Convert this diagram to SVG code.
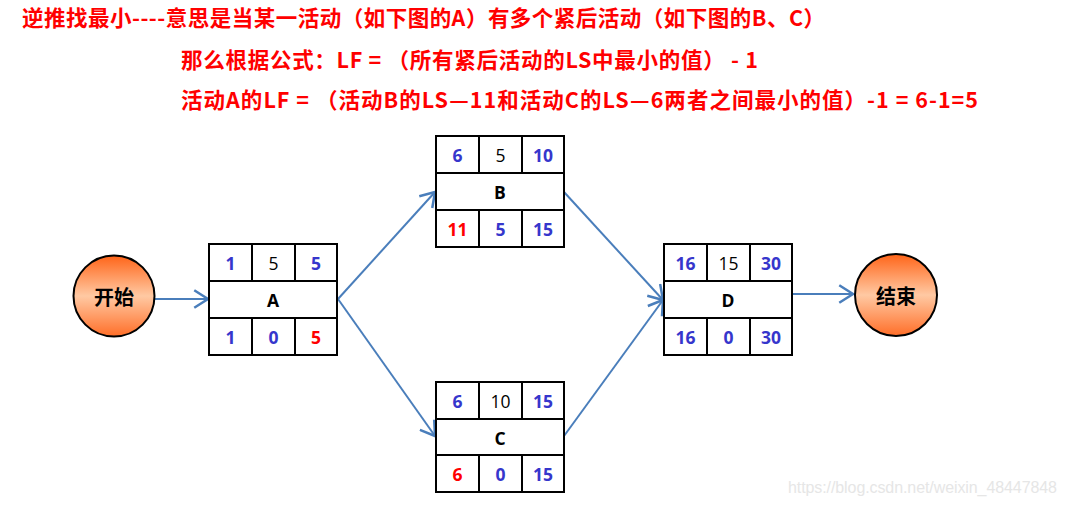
<svg xmlns="http://www.w3.org/2000/svg" width="1068" height="506" viewBox="0 0 1068 506">
<style>
.title{font-family:"Noto Sans CJK SC","Noto Sans",sans-serif;font-weight:bold;font-size:21.5px;fill:#FF0000}
.box{fill:#fff;stroke:#000;stroke-width:2}
.ln{stroke:#000;stroke-width:2}
.n{font-family:"Open Sans","Noto Sans",sans-serif;font-size:17.5px;text-anchor:middle;dominant-baseline:central}
.b{font-weight:bold;fill:#3636CC}
.r{font-weight:bold;fill:#FF0000}
.k{fill:#000}
.lab{font-weight:bold;fill:#000}
.circ{stroke:#000;stroke-width:2;fill:url(#og)}
.ct{font-family:"Noto Sans CJK SC",sans-serif;font-weight:bold;font-size:20px;text-anchor:middle;dominant-baseline:central;fill:#000}
.edge{stroke:#4A7EBB;stroke-width:2;fill:none;marker-end:url(#ah)}
.wm{font-family:"Liberation Sans",Arial,sans-serif;font-size:16px;fill:#E6E6E6}
</style>
<defs>
<linearGradient id="og" x1="0" y1="0" x2="0" y2="1">
<stop offset="0" stop-color="#FF6418"/>
<stop offset="0.5" stop-color="#FFC9A3"/>
<stop offset="1" stop-color="#FF6E28"/>
</linearGradient>
<marker id="ah" markerUnits="userSpaceOnUse" markerWidth="20" markerHeight="20" refX="13" refY="8" orient="auto" viewBox="0 0 16 16">
<polyline points="2,1 13,8 2,15" fill="none" stroke="#4A7EBB" stroke-width="2"/>
</marker>
</defs>
<rect width="1068" height="506" fill="#fff"/>
<g id="titles">
<text class="title" x="22" y="26" textLength="803" lengthAdjust="spacing">逆推找最小----意思是当某一活动（如下图的A）有多个紧后活动（如下图的B、C）</text>
<text class="title" x="181" y="68" textLength="577" lengthAdjust="spacing">那么根据公式：LF = （所有紧后活动的LS中最小的值） - 1</text>
<text class="title" x="181" y="108" textLength="797" lengthAdjust="spacing">活动A的LF = （活动B的LS—11和活动C的LS—6两者之间最小的值）-1 = 6-1=5</text>
</g>
<g id="connectors">
<line class="edge" x1="155" y1="299" x2="208" y2="299"/>
<line class="edge" x1="338" y1="299" x2="435" y2="192"/>
<line class="edge" x1="338" y1="299" x2="435" y2="436"/>
<line class="edge" x1="564" y1="192" x2="663" y2="300"/>
<line class="edge" x1="564" y1="436" x2="663" y2="300"/>
<line class="edge" x1="793" y1="294" x2="853" y2="294"/>
</g>
<g id="start">
<circle class="circ" cx="114" cy="296" r="40.5"/>
<text class="ct" x="114" y="296">开始</text>
</g>
<g id="end">
<circle class="circ" cx="896" cy="295" r="41"/>
<text class="ct" x="896" y="295">结束</text>
</g>
<g id="nodeA" transform="translate(209,244)">
<rect class="box" width="128" height="111"/>
<line class="ln" x1="0" y1="37" x2="128" y2="37"/><line class="ln" x1="0" y1="74" x2="128" y2="74"/>
<line class="ln" x1="43" y1="0" x2="43" y2="37"/><line class="ln" x1="86" y1="0" x2="86" y2="37"/>
<line class="ln" x1="43" y1="74" x2="43" y2="111"/><line class="ln" x1="86" y1="74" x2="86" y2="111"/>
<text class="n b" x="21.5" y="19">1</text><text class="n k" x="64.5" y="19">5</text><text class="n b" x="107" y="19">5</text>
<text class="n lab" x="64" y="56">A</text>
<text class="n b" x="21.5" y="93">1</text><text class="n b" x="64.5" y="93">0</text><text class="n r" x="107" y="93">5</text>
</g>
<g id="nodeB" transform="translate(436,136)">
<rect class="box" width="128" height="111"/>
<line class="ln" x1="0" y1="37" x2="128" y2="37"/><line class="ln" x1="0" y1="74" x2="128" y2="74"/>
<line class="ln" x1="43" y1="0" x2="43" y2="37"/><line class="ln" x1="86" y1="0" x2="86" y2="37"/>
<line class="ln" x1="43" y1="74" x2="43" y2="111"/><line class="ln" x1="86" y1="74" x2="86" y2="111"/>
<text class="n b" x="21.5" y="19">6</text><text class="n k" x="64.5" y="19">5</text><text class="n b" x="107" y="19">10</text>
<text class="n lab" x="64" y="56">B</text>
<text class="n r" x="21.5" y="93">11</text><text class="n b" x="64.5" y="93">5</text><text class="n b" x="107" y="93">15</text>
</g>
<g id="nodeC" transform="translate(436,382)">
<rect class="box" width="128" height="110"/>
<line class="ln" x1="0" y1="37" x2="128" y2="37"/><line class="ln" x1="0" y1="73" x2="128" y2="73"/>
<line class="ln" x1="43" y1="0" x2="43" y2="37"/><line class="ln" x1="86" y1="0" x2="86" y2="37"/>
<line class="ln" x1="43" y1="73" x2="43" y2="110"/><line class="ln" x1="86" y1="73" x2="86" y2="110"/>
<text class="n b" x="21.5" y="19">6</text><text class="n k" x="64.5" y="19">10</text><text class="n b" x="107" y="19">15</text>
<text class="n lab" x="64" y="56">C</text>
<text class="n r" x="21.5" y="92">6</text><text class="n b" x="64.5" y="92">0</text><text class="n b" x="107" y="92">15</text>
</g>
<g id="nodeD" transform="translate(664,244)">
<rect class="box" width="128" height="111"/>
<line class="ln" x1="0" y1="37" x2="128" y2="37"/><line class="ln" x1="0" y1="74" x2="128" y2="74"/>
<line class="ln" x1="43" y1="0" x2="43" y2="37"/><line class="ln" x1="86" y1="0" x2="86" y2="37"/>
<line class="ln" x1="43" y1="74" x2="43" y2="111"/><line class="ln" x1="86" y1="74" x2="86" y2="111"/>
<text class="n b" x="21.5" y="19">16</text><text class="n k" x="64.5" y="19">15</text><text class="n b" x="107" y="19">30</text>
<text class="n lab" x="64" y="56">D</text>
<text class="n b" x="21.5" y="93">16</text><text class="n b" x="64.5" y="93">0</text><text class="n b" x="107" y="93">30</text>
</g>
<text class="wm" x="788" y="493" textLength="269" lengthAdjust="spacing">https://blog.csdn.net/weixin_48447848</text>
</svg>
